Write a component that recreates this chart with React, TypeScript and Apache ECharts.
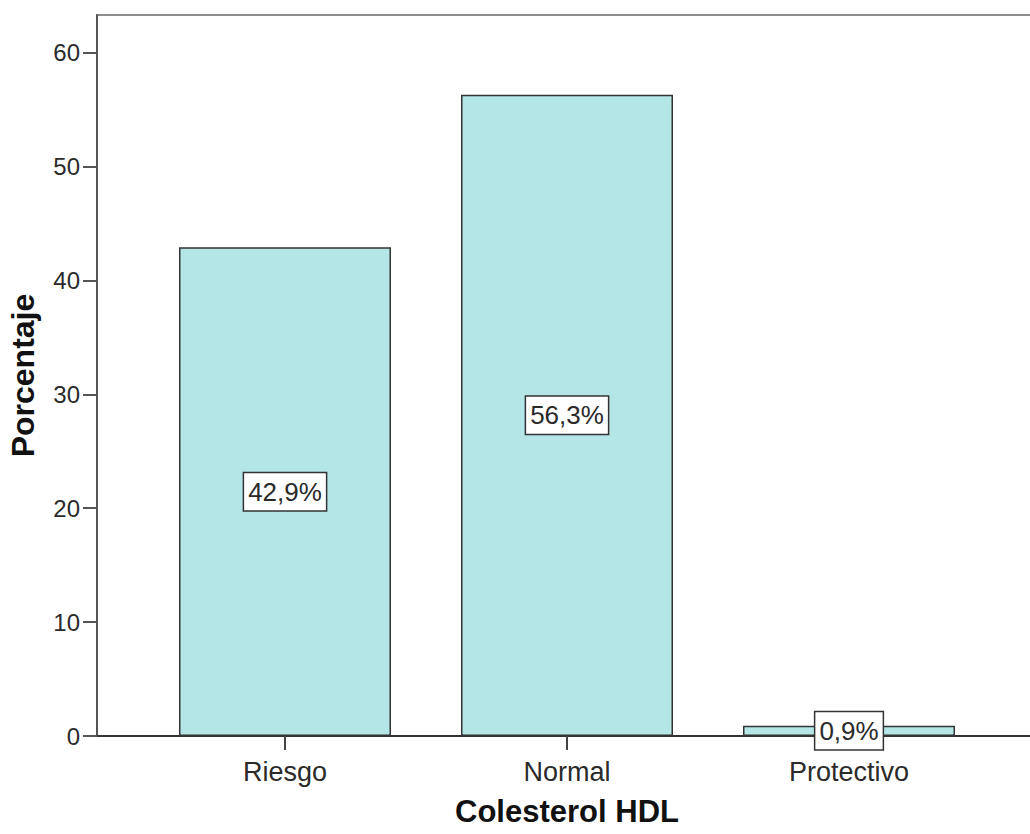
import React, { useEffect, useRef } from "react";
import * as echarts from "echarts";

const categories = ["Riesgo", "Normal", "Protectivo"];
const percentages = [42.9, 56.3, 0.9];
const yTicks = [0, 10, 20, 30, 40, 50, 60];
const xTitle = "Colesterol HDL";
const yTitle = "Porcentaje";

const FONT = "'Liberation Sans', Arial, sans-serif";

export default function App() {
  const ref = useRef<HTMLDivElement>(null);
  useEffect(() => {
    if (!ref.current) return;
    const chart = echarts.init(ref.current, null, { renderer: "svg" });
    const positions = categories.map((_, i) => i);
    chart.setOption({
      animation: false,
      backgroundColor: "#ffffff",
      textStyle: { fontFamily: FONT },
      grid: {
        left: 97,
        top: 15,
        right: -7,
        bottom: 98,
        outerBoundsMode: "none",
        containLabel: false,
        show: true,
        borderColor: "#8c8c8c",
        borderWidth: 2,
        backgroundColor: "transparent",
      },
      xAxis: {
        type: "value",
        min: -2 / 3,
        max: 8 / 3,
        name: xTitle,
        nameLocation: "middle",
        nameGap: 60,
        nameTextStyle: {
          fontFamily: FONT,
          fontSize: 31,
          lineHeight: 31,
          fontWeight: "bold",
          color: "#111",
        },
        axisLine: { show: true, lineStyle: { color: "#333", width: 2 } },
        axisTick: { show: true, length: 14, customValues: positions, lineStyle: { color: "#444", width: 2 } },
        axisLabel: {
          customValues: positions,
          formatter: (v: number) => categories[Math.round(v)] ?? "",
          fontFamily: FONT,
          fontSize: 27,
          color: "#2a2a2a",
          margin: 22,
        },
        splitLine: { show: false },
      },
      yAxis: {
        type: "value",
        min: 0,
        max: 63.3,
        name: yTitle,
        nameLocation: "middle",
        nameGap: 58,
        nameRotate: 90,
        nameTextStyle: { fontFamily: FONT, fontSize: 32, fontWeight: "bold", color: "#111" },
        axisLine: { show: true, onZero: false, lineStyle: { color: "#555", width: 2 } },
        axisTick: { show: true, length: 14, customValues: yTicks, lineStyle: { color: "#555", width: 2 } },
        axisLabel: {
          customValues: yTicks,
          fontFamily: FONT,
          fontSize: 24,
          color: "#2a2a2a",
          margin: 17,
        },
        splitLine: { show: false },
      },
      series: [
        {
          type: "bar",
          barWidth: 212,
          data: percentages.map((v, i) => [positions[i], v]),
          itemStyle: { color: "#b4e6e7", borderColor: "#333", borderWidth: 1.5 },
          label: {
            show: true,
            position: "inside",
            formatter: (p: any) => p.value[1].toFixed(1).replace(".", ",") + "%",
            fontFamily: FONT,
            fontSize: 26,
            color: "#2a2a2a",
            backgroundColor: "#ffffff",
            borderColor: "#333",
            borderWidth: 1.5,
            padding: [6, 4, 5, 4],
          },
        },
      ],
    });
    return () => chart.dispose();
  }, []);
  return (
    <div
      ref={ref}
      style={{ position: "absolute", left: 0, top: 0, width: 1030, height: 834 }}
    />
  );
}
